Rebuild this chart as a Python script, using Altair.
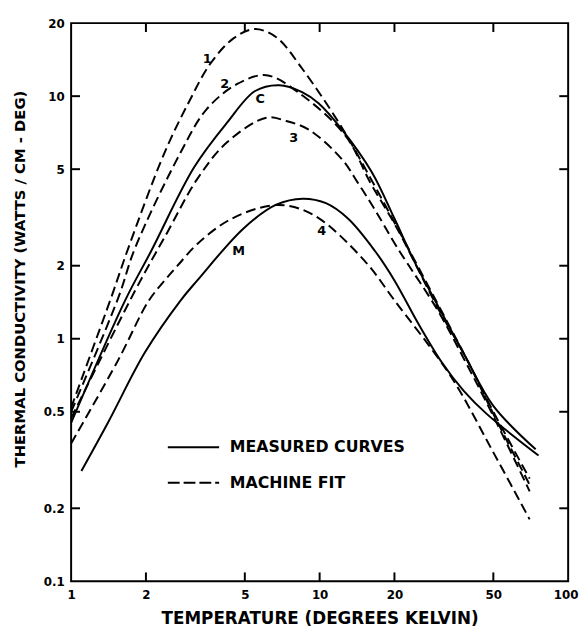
import altair as alt
import pandas as pd

# ---------------- data ----------------
# Machine-fit (dashed) curves
c1_T = [1.0, 1.45, 1.70, 2.38, 3.0, 3.63, 4.5, 5.47, 6.69, 8.5, 12.3, 16.0, 20.6, 30.0, 38.7, 50.0, 70.0]
c1_K = [0.52, 1.48, 2.37, 5.87, 9.6, 13.6, 17.3, 18.9, 17.5, 13.0, 7.41, 4.6, 2.85, 1.38, 0.84, 0.50, 0.265]

c2_T = [1.0, 1.55, 1.81, 2.76, 3.5, 4.64, 6.1, 8.27, 12.7, 16.0, 20.5, 30.0, 38.7, 50.0, 70.0]
c2_K = [0.50, 1.48, 2.37, 5.87, 8.8, 11.2, 12.2, 10.3, 6.87, 4.4, 2.85, 1.33, 0.84, 0.49, 0.25]

c3_T = [1.0, 1.81, 2.45, 3.22, 4.24, 6.1, 7.33, 9.04, 12.3, 14.3, 16.7, 20.5, 30.0, 38.7, 50.0, 70.0]
c3_K = [0.47, 1.58, 2.77, 4.56, 6.45, 8.15, 7.9, 7.28, 5.49, 4.37, 3.4, 2.38, 1.3, 0.80, 0.48, 0.235]

c4_T = [1.0, 1.55, 2.04, 2.38, 2.68, 3.22, 4.24, 5.72, 7.2, 9.64, 15.2, 20.0, 33.7, 50.0, 70.0]
c4_K = [0.37, 0.82, 1.42, 1.74, 2.0, 2.46, 3.05, 3.46, 3.55, 3.2, 2.09, 1.44, 0.70, 0.34, 0.18]

# Measured (solid) curves
cC_T = [1.0, 1.65, 2.10, 3.13, 4.24, 5.5, 6.87, 8.5, 9.9, 12.3, 16.2, 20.0, 24.0, 30.0, 38.7, 49.9, 74.0]
cC_K = [0.45, 1.44, 2.30, 5.1, 7.77, 10.5, 11.1, 10.4, 9.35, 7.28, 4.87, 3.13, 2.09, 1.36, 0.84, 0.53, 0.35]

cM_T = [1.1, 1.415, 1.98, 2.76, 3.22, 4.94, 6.69, 8.55, 10.6, 13.0, 16.7, 20.0, 25.0, 31.0, 38.0, 47.0, 76.0]
cM_K = [0.285, 0.456, 0.877, 1.44, 1.74, 2.85, 3.57, 3.78, 3.62, 3.13, 2.30, 1.74, 1.15, 0.80, 0.61, 0.49, 0.33]

# curve labels
lab_text = ["1", "2", "C", "3", "M", "4"]
lab_T = [3.53, 4.15, 5.77, 7.87, 4.72, 10.2]
lab_K = [14.2, 11.2, 9.75, 6.74, 2.30, 2.77]

# legend
leg_text = ["MEASURED CURVES", "MACHINE FIT"]
leg_style = ["solid", "dashed"]
leg_T1 = [2.45, 2.45]
leg_T2 = [3.94, 3.94]
leg_Ttext = [4.35, 4.35]
leg_K = [0.357, 0.255]

# axes
x_label_values = [1, 2, 5, 10, 20, 50, 100]
y_label_values = [0.1, 0.2, 0.5, 1, 2, 5, 10, 20]
x_inner_ticks = [2, 5, 10, 20, 50]
y_inner_ticks = [0.2, 0.5, 1, 2, 5, 10]

# ---------------- tables ----------------
def table(name, T, K):
    return pd.DataFrame({"curve": name, "T": T, "K": K})

dashed_df = pd.concat([table("1", c1_T, c1_K), table("2", c2_T, c2_K),
                       table("3", c3_T, c3_K), table("4", c4_T, c4_K)])
solid_df = pd.concat([table("C", cC_T, cC_K), table("M", cM_T, cM_K)])
labels_df = pd.DataFrame({"text": lab_text, "T": lab_T, "K": lab_K})
legend_df = pd.DataFrame({"text": leg_text, "style": leg_style, "T1": leg_T1,
                          "T2": leg_T2, "Tt": leg_Ttext, "K": leg_K})
xt_df = pd.DataFrame({"T": x_inner_ticks})
yt_df = pd.DataFrame({"K": y_inner_ticks})

W, H = 504, 566
FONT = "DejaVu Sans"
xscale = alt.Scale(type="log", domain=[1, 100], nice=False)
yscale = alt.Scale(type="log", domain=[0.1, 20], nice=False)

x_axis = alt.Axis(values=x_label_values, format="~g", grid=False, domain=False, ticks=False,
                  labelPadding=8, labelFontSize=12, labelFontWeight="bold", labelFont=FONT,
                  labelColor="black", labelFlush=False,
                  labelAlign={"condition": {"test": "datum.value >= 100", "value": "right"},
                              "value": "center"},
                  labelOffset={"condition": {"test": "datum.value >= 100", "value": 10},
                               "value": 0},
                  title="TEMPERATURE (DEGREES KELVIN)", titleFont=FONT, titleFontSize=17,
                  titleFontWeight="bold", titleColor="black", titleY=43,
                  titleBaseline="alphabetic")
y_axis = alt.Axis(values=y_label_values, format="~g", grid=False, domain=False, ticks=False,
                  labelPadding=7, labelFontSize=12, labelFontWeight="bold", labelFont=FONT,
                  labelColor="black", labelFlush=False,
                  title="THERMAL CONDUCTIVITY (WATTS / CM - DEG)", titleFont=FONT,
                  titleFontSize=15, titleFontWeight="bold", titleColor="black",
                  titleAngle=270, titleX=-47, titleY=259, titleAlign="center",
                  titleBaseline="alphabetic")


def X(field):
    return alt.X(field, scale=xscale, axis=x_axis)


def Y(field):
    return alt.Y(field, scale=yscale, axis=y_axis)


INTERP = "catmull-rom"
dashed = alt.Chart(dashed_df).mark_line(color="black", strokeWidth=2, strokeDash=[10, 5],
                                        interpolate=INTERP).encode(
    x=X("T:Q"), y=Y("K:Q"), detail="curve:N", order="T:Q",
)
solid = alt.Chart(solid_df).mark_line(color="black", strokeWidth=2,
                                      interpolate=INTERP).encode(
    x=X("T:Q"), y=Y("K:Q"), detail="curve:N", order="T:Q",
)
labels = alt.Chart(labels_df).mark_text(font=FONT, fontSize=13, fontWeight="bold",
                                        color="black").encode(
    x=X("T:Q"), y=Y("K:Q"), text="text:N",
)
leg_solid = alt.Chart(legend_df[legend_df["style"] == "solid"]).mark_rule(
    color="black", strokeWidth=2).encode(x=X("T1:Q"), x2="T2:Q", y=Y("K:Q"))
leg_dash = alt.Chart(legend_df[legend_df["style"] == "dashed"]).mark_rule(
    color="black", strokeWidth=2, strokeDash=[12, 4]).encode(x=X("T1:Q"), x2="T2:Q", y=Y("K:Q"))
leg_text_layer = alt.Chart(legend_df).mark_text(font=FONT, fontSize=16, fontWeight="bold",
                                                align="left", baseline="middle",
                                                color="black").encode(
    x=X("Tt:Q"), y=Y("K:Q"), text="text:N",
)

TL = 9
tick_style = dict(color="black", strokeWidth=2)
tb = alt.Chart(xt_df).mark_rule(**tick_style).encode(
    x=X("T:Q"), y=alt.value(H), y2=alt.value(H - TL))
tt = alt.Chart(xt_df).mark_rule(**tick_style).encode(
    x=X("T:Q"), y=alt.value(0), y2=alt.value(TL))
tl = alt.Chart(yt_df).mark_rule(**tick_style).encode(
    y=Y("K:Q"), x=alt.value(0), x2=alt.value(TL))
tr = alt.Chart(yt_df).mark_rule(**tick_style).encode(
    y=Y("K:Q"), x=alt.value(W), x2=alt.value(W - TL))

chart = alt.layer(dashed, solid, labels, leg_solid, leg_dash, leg_text_layer,
                  tb, tt, tl, tr).properties(
    width=W, height=H,
    autosize=alt.AutoSizeParams(type="none"),
    padding={"left": 64, "top": 11, "right": 11, "bottom": 44},
    background="white",
).configure_view(stroke="black", strokeWidth=2)

chart.save("out.html", embed_options={"renderer": "svg", "actions": False})
